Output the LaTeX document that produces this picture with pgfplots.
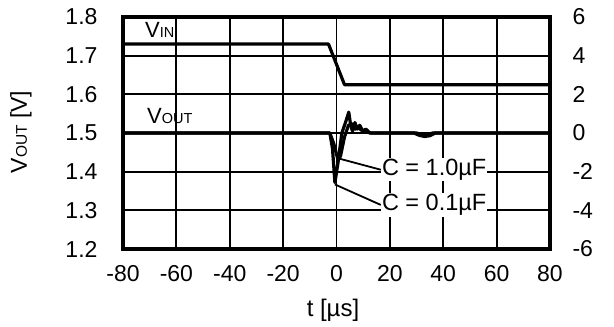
\documentclass[border=0pt]{standalone}
\usepackage{fontspec}
\setmainfont{Liberation Sans}
\usepackage{pgfplots}
\pgfplotsset{compat=1.18}

\pgfplotsset{
  frame/.style={
    scale only axis, width=427pt, height=232pt,
    at={(0,0)}, anchor=south west,
    xmin=-80, xmax=80,
    /pgf/number format/assume math mode=true,
    tick style={draw=none},
    axis line style={line width=3.4pt},
  },
  trace/.style={black, line width=3.2pt, line join=round, no marks},
}

\begin{document}
\begin{tikzpicture}[font=\fontsize{23}{27}\selectfont]
\path[use as bounding box] (-123pt,-78pt) rectangle (491pt,249pt);

% left axis: VOUT
\begin{axis}[frame,
  ymin=1.2, ymax=1.8,
  xtick={-80,-60,-40,-20,0,20,40,60,80},
  ytick={1.2,1.3,1.4,1.5,1.6,1.7,1.8},
  grid=major, grid style={black, line width=1.8pt},
  yticklabel style={/pgf/number format/fixed, /pgf/number format/fixed zerofill,
    /pgf/number format/precision=1, xshift=-22pt},
  xticklabel style={yshift=-13pt},
]
% C = 1.0uF
\addplot[trace] coordinates {
  (-80,1.5) (-2.5,1.5) (-1,1.472) (0.5,1.432) (1.5,1.44) (3,1.49) (4.5,1.52)
  (6,1.524) (7,1.51) (8,1.515) (10,1.504) (13,1.5) (30,1.5) (32,1.496)
  (34,1.495) (36,1.5) (80,1.5)};
% C = 0.1uF
\addplot[trace] coordinates {
  (-80,1.5) (-2.5,1.5) (-1.5,1.46) (-0.6,1.372) (0.5,1.42) (2,1.5) (3.5,1.53)
  (4.6,1.554) (5.3,1.52) (6,1.505) (6.9,1.527) (7.8,1.51) (8.7,1.52)
  (9.8,1.505) (11,1.51) (12.5,1.5) (29,1.5) (31,1.494) (33,1.491) (35,1.493)
  (37,1.5) (80,1.5)};

\node[anchor=base west, inner sep=0pt, font=\fontsize{22}{24}\selectfont]
  at (axis cs:-71.8,1.748) {V{\fontsize{14.5}{16}\selectfont IN}};
\node[anchor=base west, inner sep=0pt, font=\fontsize{22}{24}\selectfont]
  at (axis cs:-71,1.5235) {V{\fontsize{14.5}{16}\selectfont OUT}};

\node[anchor=west, fill=white, inner sep=1pt, font=\fontsize{23.5}{27}\selectfont]
  (c1) at (axis cs:16.6,1.405) {C = 1.0\textmu F};
\node[anchor=west, fill=white, inner sep=1pt, font=\fontsize{23.5}{27}\selectfont]
  (c2) at (axis cs:16.6,1.314) {C = 0.1\textmu F};
\draw[line width=1.8pt] (axis cs:0.9,1.434) -- (c1.west);
\draw[line width=1.8pt] (axis cs:-0.6,1.367) -- (c2.west);
\end{axis}

% right axis: VIN
\begin{axis}[frame,
  ymin=-6, ymax=6,
  ytick={-6,-4,-2,0,2,4,6},
  yticklabel pos=right,
  hide x axis,
  yticklabel style={xshift=19pt},
]
\addplot[trace] coordinates {(-80,4.6) (-3,4.6) (3,2.5) (80,2.5)};
\end{axis}

\node[rotate=90, anchor=base] at (-96pt,117pt)
  {V{\fontsize{15.5}{17}\selectfont OUT} [V]};
\node[anchor=base, font=\fontsize{24}{28}\selectfont] at (210pt,-67pt) {t [\textmu s]};
\end{tikzpicture}
\end{document}
